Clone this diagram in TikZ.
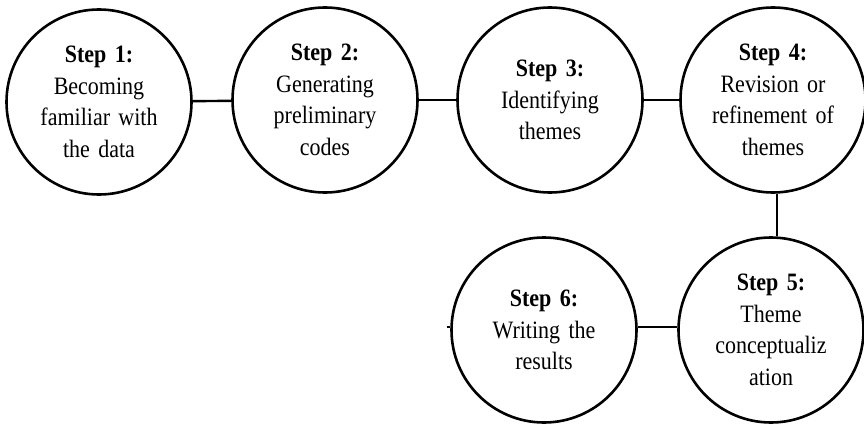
\documentclass[tikz,border=0pt]{standalone}
\usepackage{fontspec}
\setmainfont{Liberation Serif}[FakeStretch=0.88,WordSpace=0.75]
\begin{document}
\begin{tikzpicture}[x=1pt,y=-1pt,
  stepnode/.style={draw=black,line width=2.6pt,circle,minimum size=185pt,inner sep=0pt,
    text width=128pt,align=center,font=\fontsize{25}{31.5}\selectfont},
  link/.style={draw=black,line width=2.4pt}]
\useasboundingbox (0,0) rectangle (864,428);
\node[stepnode] (s1) at (99,102) {\textbf{Step 1:}\\Becoming\\familiar with\\the data};
\node[stepnode] (s2) at (325,100) {\textbf{Step 2:}\\Generating\\preliminary\\codes};
\node[stepnode] (s3) at (550,100) {\textbf{Step 3:}\\Identifying\\themes};
\node[stepnode] (s4) at (773,100) {\textbf{Step 4:}\\Revision or\\refinement of\\themes};
\node[stepnode] (s5) at (771,330) {\textbf{Step 5:}\\Theme\\conceptualiz\\ation};
\node[stepnode] (s6) at (544,330) {\textbf{Step 6:}\\Writing the\\results};
\coordinate (stub) at ([xshift=-3pt,yshift=3pt]s6.west);
\draw[link] (s1) -- (s2);
\draw[link] (s2) -- (s3);
\draw[link] (s3) -- (s4);
\draw[link] (s4.south -| 777,0) -- (s5.north -| 777,0);
\draw[link] ([yshift=3pt]s5.west) -- ([yshift=3pt]s6.east);
\draw[line width=1.5pt] ([yshift=3pt]s6.west) -- (stub);
\end{tikzpicture}
\end{document}
